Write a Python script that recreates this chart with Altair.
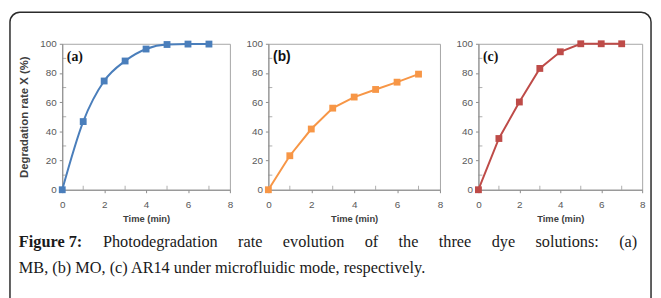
import altair as alt
import pandas as pd

time = [0, 1, 2, 3, 4, 5, 6, 7]
mb = [0, 46.7, 74.5, 88.2, 96.4, 99.5, 99.8, 99.8]
mo = [0, 23.3, 41.6, 55.9, 63.5, 68.7, 73.7, 79.2]
ar14 = [0, 35.1, 60.1, 83.1, 94.5, 100, 100, 100]

x_ticks = [0, 2, 4, 6, 8]
x_minor = [1, 3, 5, 7]
y_ticks = [0, 20, 40, 60, 80, 100]
y_minor = [10, 30, 50, 70, 90]

caption_lead = "Figure 7:"
caption_words = ["Photodegradation", "rate", "evolution", "of", "the", "three", "dye", "solutions:", "(a)"]
caption_line2 = "MB, (b) MO, (c) AR14 under microfluidic mode, respectively."

axis_color = "#8c8c8c"
serif = "Liberation Serif"
sans = "Liberation Sans"
CAP_SIZE = 16.5

# Times / Liberation Serif advance widths (1/1000 em) for the justified caption line
TIMES = {"P": 556, "h": 500, "o": 500, "t": 278, "d": 500, "e": 444, "g": 500, "r": 333,
         "a": 444, "i": 278, "n": 500, "v": 500, "l": 278, "u": 500, "f": 333, "s": 389,
         "y": 500, ":": 278, "(": 333, ")": 333}
TIMES_BOLD = {"F": 611, "i": 278, "g": 500, "u": 556, "r": 444, "e": 444, " ": 250, "7": 500, ":": 333}


def text_width(s, table):
    return sum(table.get(c, 500) for c in s) / 1000 * CAP_SIZE


def panel(values, color, label, label_font, width, ytitle, interp):
    df = pd.DataFrame({"t": time, "v": values})
    x = alt.X("t:Q", scale=alt.Scale(domain=[0, 8], nice=False),
              axis=alt.Axis(values=x_ticks, title="Time (min)", labelPadding=7, titlePadding=4,
                            titleFontSize=9.5, labelOverlap=False, labelFlush=False))
    y = alt.Y("v:Q", scale=alt.Scale(domain=[0, 100], nice=False),
              axis=alt.Axis(values=y_ticks, tickCount=6, title=ytitle, titlePadding=11, labelPadding=3,
                            titleFontSize=11.5, labelOverlap=False, labelFlush=False, labelSeparation=0))
    base = alt.Chart(df)
    line = base.mark_line(color=color, strokeWidth=2, interpolate=interp).encode(x=x, y=y)
    pts = base.mark_point(shape="square", filled=True, size=48, color=color, opacity=1).encode(x=x, y=y)
    xm = alt.Chart(pd.DataFrame({"t": x_minor, "v": [0] * len(x_minor)})).mark_tick(
        orient="vertical", size=4, thickness=1, color=axis_color, yOffset=-2
    ).encode(x=x, y=y)
    ym = alt.Chart(pd.DataFrame({"t": [0] * len(y_minor), "v": y_minor})).mark_tick(
        orient="horizontal", size=4, thickness=1, color=axis_color, xOffset=2
    ).encode(x=x, y=y)
    lab = alt.Chart(pd.DataFrame({"t": [0.22], "v": [91], "s": [label]})).mark_text(
        align="left", baseline="middle", font=label_font, fontWeight="bold", fontSize=14, color="#111111"
    ).encode(x=x, y=y, text="s:N")
    return [line, pts, xm, ym, lab], width


one = alt.Data(values=[{}])
frame = alt.Chart(one).mark_rect(
    fillOpacity=0, stroke="#2b2b2b", strokeWidth=1.5, cornerRadius=10
).encode(x=alt.value(-53), x2=alt.value(597), y=alt.value(-32), y2=alt.value(290))

cap_style = dict(font=serif, fontSize=CAP_SIZE, color="#1a1a1a", baseline="alphabetic")
left, right = -44, 583  # caption line extent, relative to panel a
caps = [alt.Chart(one).mark_text(align="left", fontWeight="bold", **cap_style).encode(
    x=alt.value(left), y=alt.value(206), text=alt.value(caption_lead))]
widths = [text_width(w, TIMES) for w in caption_words]
lead_w = text_width(caption_lead, TIMES_BOLD)
gap = (right - left - lead_w - sum(widths)) / len(caption_words)
pos = left + lead_w + gap
for w, wd in zip(caption_words, widths):
    caps.append(alt.Chart(one).mark_text(align="left", **cap_style).encode(
        x=alt.value(pos), y=alt.value(206), text=alt.value(w)))
    pos += wd + gap
caps.append(alt.Chart(one).mark_text(align="left", **cap_style).encode(
    x=alt.value(left), y=alt.value(232), text=alt.value(caption_line2)))

la, wa = panel(mb, "#4a7ebb", "(a)", serif, 170, "Degradation rate X (%)", "monotone")
lb, wb = panel(mo, "#f79646", "(b)", sans, 174, "", "linear")
lc, wc = panel(ar14, "#be4b48", "(c)", serif, 166, "", "linear")

pa = alt.layer(*la, frame, *caps).properties(width=wa, height=148)
pb = alt.layer(*lb).properties(width=wb, height=148)
pc = alt.layer(*lc).properties(width=wc, height=148)

chart = alt.hconcat(pa, pb, pc, spacing=39, bounds="flush").properties(
    padding={"left": 0, "top": 0, "right": 0, "bottom": 0},
    background="white",
).configure_view(stroke="#a6a6a6").configure_axis(
    labelFont=sans, labelFontSize=10, labelColor="#595959",
    titleFont=sans, titleFontWeight="bold", titleFontSize=9, titleColor="#404040",
    domainColor=axis_color, tickColor=axis_color, tickSize=3, grid=False, labelOverlap=False,
).configure_axisY(labelOverlap=False)

chart.save("out.html", embed_options={"renderer": "svg", "actions": False})
